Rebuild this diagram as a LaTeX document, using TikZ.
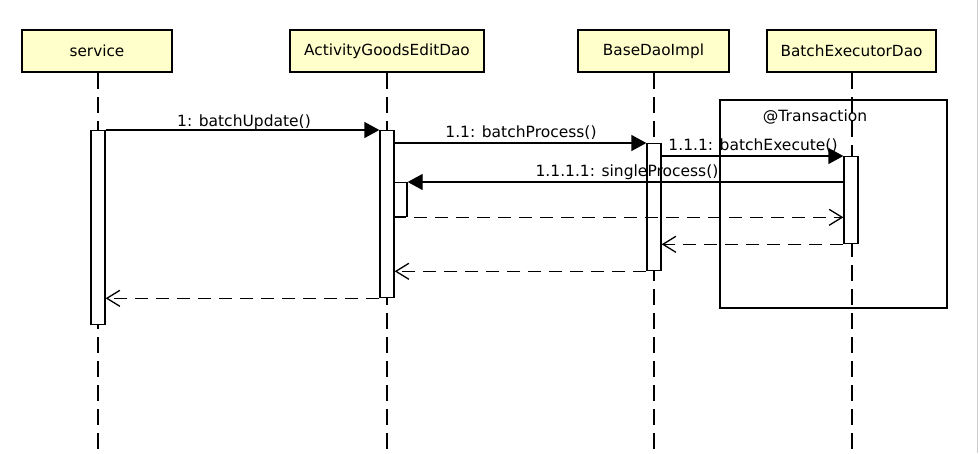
\documentclass[tikz,border=0pt]{standalone}
\usepackage{fontspec}
\setmainfont{DejaVu Sans}
\usetikzlibrary{arrows.meta}
\definecolor{hdrfill}{RGB}{255,255,204}
\tikzset{
  hdr/.style={draw=black, line width=2.8pt, fill=hdrfill, minimum height=42pt, inner sep=0pt, font=\fontsize{15.3}{18}\selectfont},
  life/.style={line width=1.3pt, dash pattern=on 16pt off 8pt},
  actbar/.style={draw=black, line width=1.3pt, fill=white, minimum width=14pt, inner sep=0pt, anchor=north},
  msg/.style={line width=1.3pt, -{Triangle[length=15pt,width=16pt]}},
  ret/.style={line width=1.3pt, dash pattern=on 13pt off 8pt, -{Straight Barb[length=13pt,width=16pt]}},
  lbl/.style={anchor=base, inner sep=0pt, font=\fontsize{15.5}{18}\selectfont},
  frame/.style={draw=black, line width=1.3pt}
}
\begin{document}
\begin{tikzpicture}[x=1pt,y=-1pt]
\useasboundingbox (0,0) rectangle (980,453);
\fill[white] (0,0) rectangle (980,453);
% headers
\node[hdr, minimum width=150pt] (hs) at (97,51) {service};
\node[hdr, minimum width=194pt] (hg) at (387,51) {ActivityGoodsEditDao};
\node[hdr, minimum width=151pt] (hd) at (653.5,51) {BaseDaoImpl};
\node[hdr, minimum width=169pt] (he) at (851.5,51) {BatchExecutorDao};
% transaction frame
\node[frame, minimum width=227pt, minimum height=208pt, inner sep=0pt] (tx) at (833.5,204) {};
\node[lbl] (txl) at (815,121) {@Transaction};
% lifelines
\coordinate (ls) at (98,453);
\coordinate (lg) at (387,453);
\coordinate (ld) at (654,453);
\coordinate (le) at (852,453);
\draw[life] (hs.south -| ls) -- (ls);
\draw[life] (hg.south -| lg) -- (lg);
\draw[life] (hd.south -| ld) -- (ld);
\draw[life] (he.south -| le) -- (le);
% activation bars
\node[actbar, minimum height=194pt] (s1) at (98,130) {};
\node[actbar, minimum height=167pt] (g1) at (387,130) {};
\node[actbar, minimum width=13pt, minimum height=34pt] (g2) at (400.5,182) {};
\node[actbar, minimum height=127pt] (d1) at (654,143) {};
\node[actbar, minimum height=87pt] (e1) at (851,156) {};
% messages
\draw[msg] (s1.north east) -- (g1.north west);
\node[lbl] (m1) at (244,126) {1: batchUpdate()};
\draw[msg] (g1.east |- d1.north) -- (d1.north west);
\node[lbl] (m2) at (521,137.5) {1.1: batchProcess()};
\draw[msg] (d1.east |- e1.north) -- (e1.north west);
\node[lbl] (m3) at (753,150.5) {1.1.1: batchExecute()};
\draw[msg] (e1.west |- g2.north) -- (g2.north east);
\node[lbl] (m4) at (627,176.5) {1.1.1.1: singleProcess()};
% returns
\draw[ret] (g2.south west) -- (e1.west |- g2.south);
\draw[ret] (e1.south west) -- (d1.east |- e1.south);
\draw[ret] (d1.south west) -- (g1.east |- d1.south);
\draw[ret] (g1.south west) -- (s1.east |- g1.south);
% right border
\draw[gray!40, line width=0.8pt] (977,0) coordinate (rb1) -- (977,453) coordinate (rb2);
\end{tikzpicture}
\end{document}
